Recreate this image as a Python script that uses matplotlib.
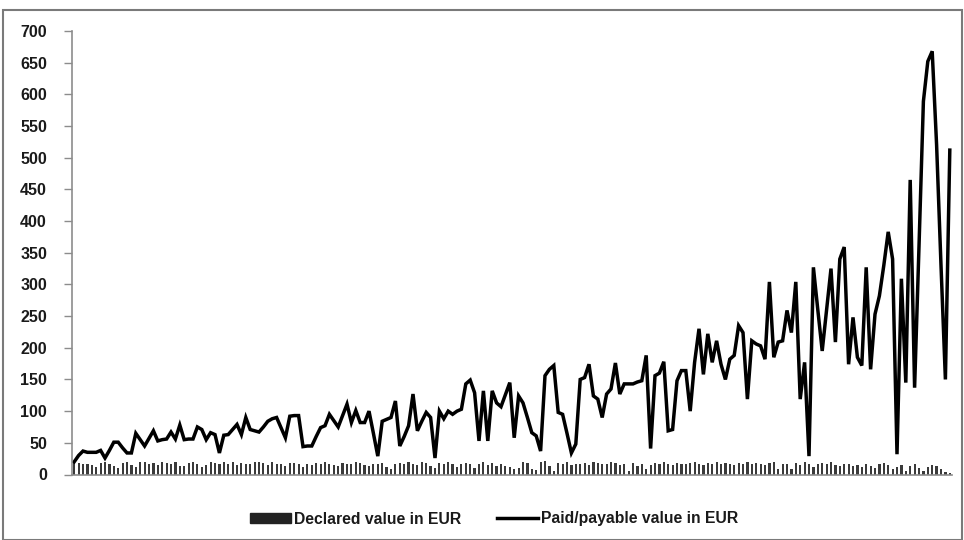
import matplotlib
matplotlib.use("Agg")
import matplotlib.pyplot as plt
import matplotlib.patches as mpatches
import numpy as np

plt.rcParams['font.family'] = ['Liberation Sans', 'DejaVu Sans']

paid_values = [20,30,37,35,35,35,38,26,38,51,51,42,34,34,65,55,45,57,69,53,
               55,56,67,56,78,55,56,56,75,71,55,66,63,34,62,63,71,79,63,90,
               71,69,67,75,84,88,90,74,58,92,93,93,
               44,45,45,60,74,77,95,85,75,93,111,82,101,82,82,100,65,29,84,87,
               90,116,45,60,77,127,69,84,98,90,26,100,88,100,95,100,103,143,149,129,
               53,132,53,132,113,107,126,145,58,124,113,90,66,61,37,156,166,172,98,95,
               65,34,48,150,153,174,124,119,90,127,135,176,127,143,143,143,146,148,188,41,
               156,160,178,69,71,148,164,164,100,177,230,158,222,177,211,174,150,182,188,235,
               224,119,211,206,203,182,304,185,209,211,259,224,304,119,177,29,327,260,195,260,
               325,209,340,359,174,248,185,172,327,166,253,282,330,383,340,32,309,145,465,137,
               360,589,652,668,520,330,150,512]

declared_values = [20,18,17,16,15,12,18,20,17,14,10,18,19,15,12,20,19,17,18,15,
                   20,18,16,19,14,13,18,20,17,12,15,19,18,16,20,17,19,15,18,16,
                   17,19,20,18,15,19,16,17,14,18,
                   18,17,12,16,15,18,17,19,17,15,14,18,17,16,19,18,15,13,17,16,
                   18,12,8,17,18,16,19,17,15,20,18,14,10,18,17,19,16,12,17,18,
                   16,11,17,19,15,18,13,16,14,12,
                   8,10,20,18,9,7,19,21,14,6,18,17,19,15,16,17,18,15,19,18,
                   17,16,19,18,15,16,5,18,14,17,9,15,18,16,19,17,15,18,16,17,
                   18,19,16,15,18,17,19,16,18,17,
                   15,18,17,19,16,18,17,15,18,19,8,17,16,9,18,15,19,17,12,16,
                   18,17,19,15,14,16,17,13,15,12,16,14,10,16,18,15,9,12,15,6,
                   14,16,10,5,12,15,13,8,4,3]

y_ticks = list(range(0, 701, 50))
legend_labels = ["Declared value in EUR", "Paid/payable value in EUR"]

W, H = 964, 540
fig = plt.figure(figsize=(W/100, H/100), dpi=100)
ax = fig.add_axes([72/W, (H-474.5)/H, (952-72)/W, (474.5-31)/H])

n = len(paid_values)
x = np.arange(n)
ax.bar(x, declared_values, width=0.5, color='#3a3a3a', label=legend_labels[0])
ax.plot(x, paid_values, color='black', lw=2.5, solid_joinstyle='miter', label=legend_labels[1])

ax.set_xlim(-0.5, n - 0.5)
ax.set_ylim(0, 700)
ax.set_yticks(y_ticks)
ax.set_yticklabels([str(t) for t in y_ticks], fontsize=11.5, fontweight='bold', color='#1a1a1a')
ax.set_xticks([])
for s in ['top', 'right']:
    ax.spines[s].set_visible(False)
for s in ['left', 'bottom']:
    ax.spines[s].set_color('#8c8c8c')
    ax.spines[s].set_linewidth(1.2)
ax.tick_params(axis='y', length=6, width=1, color='#8c8c8c', pad=12)

handles = [mpatches.Patch(color='#222222'),
           plt.Line2D([0], [0], color='black', lw=2.5)]
leg = fig.legend(handles, legend_labels, loc='center', bbox_to_anchor=(0.5125, (H-519)/H),
                 ncol=2, frameon=False, prop={'size': 11.3, 'weight': 'bold'},
                 handlelength=2.6, handleheight=0.6, columnspacing=2.3, handletextpad=0.2)
for t in leg.get_texts():
    t.set_color('#1a1a1a')

border = mpatches.Rectangle((3/W, 0.0), (W-5)/W, (H-10)/H, transform=fig.transFigure,
                            fill=False, edgecolor='#7a7a7a', lw=1.5)
fig.patches.append(border)

fig.savefig("out.png", dpi=100)
